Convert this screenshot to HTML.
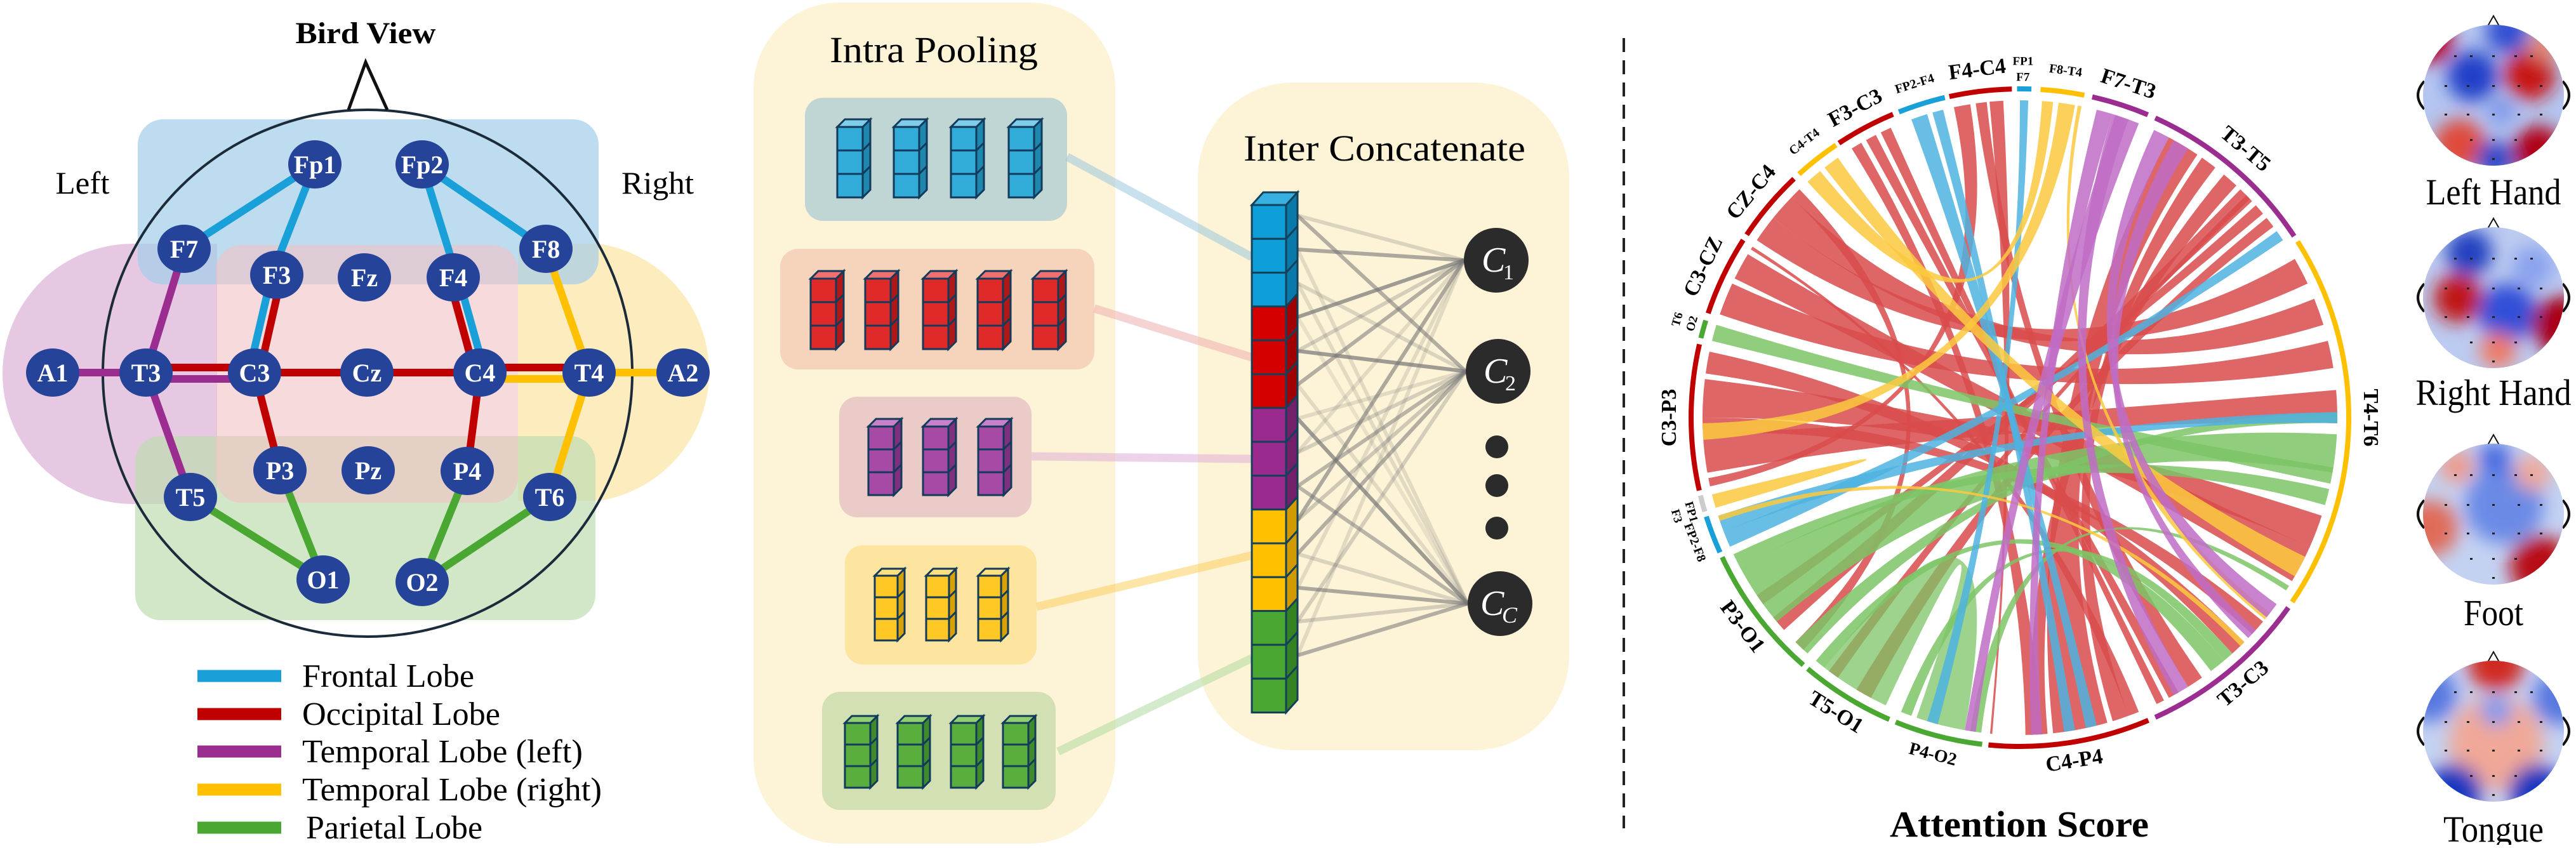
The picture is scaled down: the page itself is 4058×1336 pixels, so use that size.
<!DOCTYPE html>
<html><head><meta charset="utf-8"><style>
html,body{margin:0;padding:0;background:#fff;}
svg, svg text{font-family:"Liberation Serif","Times New Roman",serif;}
</style></head><body>
<svg id="s" width="4058" height="1331" viewBox="0 0 4058 1331" xmlns="http://www.w3.org/2000/svg" font-family="Liberation Serif, serif">
<rect width="4058" height="1331" fill="#fff"/>
<!-- PANEL 1 -->
<g>
<path d="M342,384 H209 A205,205 0 0 0 209,794 H342 Z" fill="#e6c8e3"/>
<path d="M816,384 H944 A205,205 0 0 1 944,789 H816 Z" fill="#fdecbe"/>
<rect x="217" y="188" width="726" height="260" rx="40" fill="#a3cde8" opacity="0.7"/>
<rect x="213" y="687" width="725" height="290" rx="40" fill="#bfdcb0" opacity="0.7"/>
<rect x="340" y="386" width="476" height="406" rx="40" fill="#f2c2c4" opacity="0.6"/>
<ellipse cx="579" cy="588" rx="417" ry="415" fill="none" stroke="#1c2b3a" stroke-width="4"/>
<path d="M549,173 L576,98 L610,173" fill="none" stroke="#111" stroke-width="5"/>
<text x="576" y="68" font-size="48" font-weight="bold" text-anchor="middle" textLength="221" lengthAdjust="spacingAndGlyphs">Bird View</text>
<text x="130" y="305" font-size="50" text-anchor="middle" textLength="85" lengthAdjust="spacingAndGlyphs">Left</text>
<text x="1036" y="305" font-size="50" text-anchor="middle" textLength="114" lengthAdjust="spacingAndGlyphs">Right</text>
<g stroke-width="12" stroke-linecap="round" fill="none">
<line x1="496" y1="259" x2="290" y2="392" stroke="#1aa0d8"/>
<line x1="496" y1="259" x2="428" y2="433" stroke="#1aa0d8"/>
<line x1="428" y1="433" x2="392" y2="587" stroke="#1aa0d8"/>
<line x1="444" y1="433" x2="409" y2="587" stroke="#c00000"/>
<line x1="665" y1="259" x2="860" y2="392" stroke="#1aa0d8"/>
<line x1="665" y1="259" x2="720" y2="437" stroke="#1aa0d8"/>
<line x1="722" y1="437" x2="764" y2="587" stroke="#1aa0d8"/>
<line x1="707" y1="437" x2="748" y2="587" stroke="#c00000"/>
<line x1="83" y1="587" x2="230" y2="587" stroke="#9b2d91"/>
<line x1="290" y1="392" x2="230" y2="587" stroke="#9b2d91"/>
<line x1="230" y1="587" x2="300" y2="783" stroke="#9b2d91"/>
<line x1="230" y1="579" x2="401" y2="579" stroke="#c00000"/>
<line x1="230" y1="597" x2="401" y2="597" stroke="#9b2d91"/>
<line x1="401" y1="587" x2="756" y2="587" stroke="#c00000"/>
<line x1="756" y1="579" x2="928" y2="579" stroke="#c00000"/>
<line x1="756" y1="597" x2="928" y2="597" stroke="#ffc000"/>
<line x1="860" y1="392" x2="928" y2="587" stroke="#ffc000"/>
<line x1="928" y1="587" x2="866" y2="783" stroke="#ffc000"/>
<line x1="928" y1="587" x2="1076" y2="587" stroke="#ffc000"/>
<line x1="401" y1="587" x2="441" y2="741" stroke="#c00000"/>
<line x1="756" y1="587" x2="736" y2="742" stroke="#c00000"/>
<line x1="300" y1="783" x2="509" y2="913" stroke="#4aa832"/>
<line x1="441" y1="741" x2="509" y2="913" stroke="#4aa832"/>
<line x1="736" y1="742" x2="665" y2="917" stroke="#4aa832"/>
<line x1="866" y1="783" x2="665" y2="917" stroke="#4aa832"/>
</g>
<g id="nodes" font-size="40" font-weight="bold" fill="#fff" text-anchor="middle"></g>
<g stroke-width="19">
<line x1="311" y1="1065" x2="443" y2="1065" stroke="#1aa0d8"/>
<line x1="311" y1="1125" x2="443" y2="1125" stroke="#c00000"/>
<line x1="311" y1="1184" x2="443" y2="1184" stroke="#9b2d91"/>
<line x1="311" y1="1244" x2="443" y2="1244" stroke="#ffc000"/>
<line x1="311" y1="1304" x2="443" y2="1304" stroke="#4aa832"/>
</g>
<g font-size="52" lengthAdjust="spacingAndGlyphs">
<text x="476" y="1082" textLength="271" lengthAdjust="spacingAndGlyphs">Frontal Lobe</text>
<text x="476" y="1142" textLength="312" lengthAdjust="spacingAndGlyphs">Occipital Lobe</text>
<text x="476" y="1201" textLength="442" lengthAdjust="spacingAndGlyphs">Temporal Lobe (left)</text>
<text x="476" y="1261" textLength="472" lengthAdjust="spacingAndGlyphs">Temporal Lobe (right)</text>
<text x="482" y="1321" textLength="278" lengthAdjust="spacingAndGlyphs">Parietal Lobe</text>
</g>
</g>
<!-- PANEL 2 -->
<rect x="1187" y="4" width="570" height="1325" rx="135" fill="#fdf3d6"/>
<text x="1471" y="98" font-size="58" text-anchor="middle" textLength="328" lengthAdjust="spacingAndGlyphs">Intra Pooling</text>
<rect x="1268" y="154" width="413" height="194" rx="28" fill="#bfd6d4"/>
<rect x="1229" y="392" width="495" height="190" rx="28" fill="#f6d4bb"/>
<rect x="1322" y="625" width="303" height="190" rx="28" fill="#ebcbc7"/>
<rect x="1331" y="859" width="302" height="188" rx="28" fill="#fde49f"/>
<rect x="1295" y="1090" width="368" height="186" rx="28" fill="#d3e0b3"/>
<rect x="1887" y="130" width="585" height="1052" rx="150" fill="#fdf3d6"/>
<text x="2181" y="253" font-size="58" text-anchor="middle" textLength="444" lengthAdjust="spacingAndGlyphs">Inter Concatenate</text>
<g stroke-width="13" opacity="0.55" stroke-linecap="butt">
<line x1="1681" y1="247" x2="1972" y2="405" stroke="#9cc9e0"/>
<line x1="1724" y1="486" x2="1972" y2="563" stroke="#f0b0b0"/>
<line x1="1625" y1="719" x2="1972" y2="723" stroke="#e0b0d8"/>
<line x1="1633" y1="956" x2="1972" y2="875" stroke="#fcd060"/>
<line x1="1667" y1="1184" x2="1972" y2="1037" stroke="#b0dca0"/>
</g>
<g id="cubes"></g>
<g id="glines"></g>
<g id="column"></g>
<g fill="#2b2b2b">
<circle cx="2357" cy="410" r="51"/><circle cx="2360" cy="585" r="51"/><circle cx="2363" cy="951" r="51"/>
<circle cx="2358" cy="704" r="18"/><circle cx="2358" cy="765" r="18"/><circle cx="2358" cy="832" r="18"/>
</g>
<g fill="#fff" font-style="italic">
<text x="2334" y="428" font-size="56">C</text><text x="2368" y="440" font-size="34" font-style="normal">1</text>
<text x="2337" y="603" font-size="56">C</text><text x="2371" y="615" font-size="34" font-style="normal">2</text>
<text x="2332" y="969" font-size="56">C</text><text x="2366" y="981" font-size="36">C</text>
</g>
<line x1="2558" y1="60" x2="2558" y2="1305" stroke="#222" stroke-width="4" stroke-dasharray="22 13"/>
<!-- PANEL 3 -->
<g id="chords"></g>
<g id="ring"></g>
<g id="rlabels" font-weight="bold" text-anchor="middle"></g>
<text x="3181" y="1318" font-size="58" font-weight="bold" text-anchor="middle" textLength="408" lengthAdjust="spacingAndGlyphs">Attention Score</text>
<defs>
<filter id="bl" x="-50%" y="-50%" width="200%" height="200%"><feGaussianBlur stdDeviation="14"/></filter>
</defs>
<g id="topo"></g>
<g font-size="58" text-anchor="middle">
<text x="3928" y="322" textLength="213" lengthAdjust="spacingAndGlyphs">Left Hand</text>
<text x="3928" y="638" textLength="245" lengthAdjust="spacingAndGlyphs">Right Hand</text>
<text x="3928" y="985" textLength="94" lengthAdjust="spacingAndGlyphs">Foot</text>
<text x="3928" y="1326" textLength="158" lengthAdjust="spacingAndGlyphs">Tongue</text>
</g>
</svg>
<script>
const NS="http://www.w3.org/2000/svg";
function el(t,a,p,txt){const e=document.createElementNS(NS,t);for(const k in a)e.setAttribute(k,a[k]);if(txt!==undefined)e.textContent=txt;p.appendChild(e);return e;}
const $=id=>document.getElementById(id);
const nodes=[["Fp1",496,259],["Fp2",665,259],["F7",290,392],["F8",860,392],["F3",436,433],["Fz",574,437],["F4",714,437],["A1",83,587],["T3",230,587],["C3",401,587],["Cz",578,587],["C4",756,587],["T4",928,587],["A2",1076,587],["P3",441,741],["Pz",580,741],["P4",736,742],["T5",300,783],["T6",866,783],["O1",509,913],["O2",665,917]];
nodes.forEach(n=>{el("ellipse",{cx:n[1],cy:n[2],rx:42,ry:38,fill:"#26439a"},$("nodes"));el("text",{x:n[1],y:n[2]+14},$("nodes"),n[0]);});
const cubeCol={b:["#32acd8","#7fcde8","#1f86ad"],r:["#e02a2a","#f07070","#b01818"],p:["#a64aa6","#c880c8","#7e2f7e"],y:["#ffc825","#ffe080","#d8a000"],g:["#5aae3e","#90d070","#3f8a2a"]};
function cube(x,y,c,w,h,d,p){const cc=cubeCol[c];
 for(let i=0;i<3;i++){const yy=y+i*h;
  el("rect",{x:x,y:yy,width:w,height:h,fill:cc[0],stroke:"#123a5a","stroke-width":3},p);
  el("path",{d:`M${x+w},${yy} l${d},${-d} v${h} l${-d},${d}z`,fill:cc[2],stroke:"#123a5a","stroke-width":3},p);}
 el("path",{d:`M${x},${y} l${d},${-d} h${w} l${-d},${d}z`,fill:cc[1],stroke:"#123a5a","stroke-width":3},p);}
const G=$("cubes");
[1319,1408,1498,1589].forEach(x=>cube(x,200,"b",40,37,12,G));
[1277,1363,1454,1540,1627].forEach(x=>cube(x,439,"r",40,37,12,G));
[1368,1454,1541].forEach(x=>cube(x,672,"p",40,36,12,G));
[1378,1459,1541].forEach(x=>cube(x,907,"y",36,34,11,G));
[1331,1414,1498,1580].forEach(x=>cube(x,1139,"g",40,34,11,G));
const colc=[["#0e9fd8","#0a78a8"],["#d40000","#a00000"],["#9b2a8f","#72206a"],["#ffc000","#d09a00"],["#4aa832","#358222"]];
const CG=$("column");const ch=53.3;
el("path",{d:"M1972,323 l18,-20 h54 l-18,20z",fill:"#35b0e0",stroke:"#14405a","stroke-width":3},CG);
for(let i=0;i<15;i++){const c=colc[Math.floor(i/3)];const y=323+i*ch;
 el("rect",{x:1972,y:y,width:54,height:ch,fill:c[0],stroke:"#14405a","stroke-width":3},CG);
 el("path",{d:`M2026,${y} l18,-20 v${ch} l-18,20z`,fill:c[1],stroke:"#14405a","stroke-width":3},CG);}
const tg=[[2306,410],[2309,585],[2312,951]];
const gl=[[0,0,.25],[0,1,.55],[1,0,.6],[1,2,.2],[2,1,.25],[2,2,.2],[3,0,.7],[3,2,.15],[4,1,.7],[4,0,.3],[5,0,.55],[5,2,.2],[6,2,.7],[6,1,.2],[7,1,.3],[7,0,.2],[8,1,.5],[8,2,.5],[9,0,.6],[9,1,.35],[10,1,.55],[10,2,.25],[11,2,.6],[11,0,.2],[12,2,.3],[12,1,.3],[13,2,.55],[13,0,.2]];
gl.forEach(g=>{const y=323+g[0]*ch+ch/2-10;el("line",{x1:2044,y1:y,x2:tg[g[1]][0],y2:tg[g[1]][1],stroke:"#777",opacity:g[2],"stroke-width":6},$("glines"));});
const CX=3182,CY=658,RR=518,R=500;
const pt=(a,r)=>{const t=a*Math.PI/180;return [(CX+r*Math.cos(t)).toFixed(1),(CY+r*Math.sin(t)).toFixed(1)];};
const segs=[[-90.5,-88,"#1aa0d8"],[-86.4,-78.7,"#ffc000"],[-77.3,-67.1,"#9b2d91"],[-65.7,-33.5,"#9b2d91"],[-32.4,34.1,"#ffc000"],[35.3,65.7,"#9b2d91"],[67,95.5,"#c00000"],[96.6,112.2,"#4aa832"],[113.4,130.2,"#4aa832"],[131.2,154.9,"#4aa832"],[155.8,162.5,"#1aa0d8"],[163.4,166.3,"#ccc"],[167.2,192.9,"#c00000"],[194,197.2,"#4aa832"],[198.5,212.7,"#c00000"],[213.8,226.6,"#c00000"],[227.8,236,"#ffc000"],[236.6,247.3,"#c00000"],[248.4,256.8,"#1aa0d8"],[257.6,268.6,"#c00000"]];
segs.forEach(s=>{const a=pt(s[0],RR),b=pt(s[1],RR);el("path",{d:`M${a} A${RR},${RR} 0 0 1 ${b}`,fill:"none",stroke:s[2],"stroke-width":8},$("ring"));});
const col={r:"#d94b4b",g:"#7cc466",b:"#4db3e0",y:"#fbc93e",p:"#c06cc6"};
function rib(a1,a2,b1,b2,c,op){const p1=pt(a1,R),p2=pt(a2,R),q1=pt(b1,R),q2=pt(b2,R);
 const m1=(a1+a2)/2,m2=(b1+b2)/2;let d=Math.abs(((m2-m1)%360+540)%360-180);const k=pt((m1+m2)/2,0).join(",");
 el("path",{d:`M${p1} A${R},${R} 0 0 1 ${p2} Q${k} ${q1} A${R},${R} 0 0 1 ${q2} Q${k} ${p1}Z`,fill:col[c],opacity:op||0.85},$("chords"));}
const R_=[
[214,219,-30,-25,"r"],[219,224,-22,-17,"r"],[199,205,-14,-9,"r"],[206,211,24,31,"r"],
[170,177,-5,1,"r"],[180,187,18,24,"r"],[177,180,40,43,"r"],[188,192,45,48,"r"],
[258,261,167.5,169,"r"],[262,264,55,58,"r"],[264.5,267,95,95.4,"r"],
[238,240,86,89,"r"],[241,243,60,62,"r"],[244,246,63,64.5,"r"],
[74,84,-62,-56,"r"],[70,73,-55,-52,"r"],[85,88,-50,-47,"r"],
[224,226,133,135,"r"],[212,212.6,68,70,"r"],
[-46,-43,138,141,"r"],[-42,-40,144,146,"r"],[-39,-37,118,121,"r"],[-44.5,-43.5,125,127,"r"],
[194,197,9,12,"g"],[140,152,3,10,"g"],[152,154.5,13,16,"g"],[132,135,-1,1,"g"],
[115,128,100,109,"g",.75],[128,130,50,53,"g"],[110,112,48,50,"g"],[97,99,32,33,"g"],
[156,159,-36,-34,"b"],[159,162,-1,1,"b"],[250,253,76,78,"b"],[254,256,80,82,"b"],[-90,-88.5,105,107,"b"],
[228,231,-86,-84,"y"],[232,235,26,30,"y"],[-83,-80,176,179,"y"],[-79.5,-78.8,38,39.5,"y"],[164,166,163.5,165.5,"y"],[161,162,45,46,"y"],
[-76,-73,86,88,"p"],[-72.5,-68,98,100,"p"],[-65,-62,36,39,"p"],[-61,-58,42,44,"p"],[58,61,-73,-70,"p"]
];
R_.forEach(r=>rib(r[0],r[1],r[2],r[3],r[4],r[5]));
const labs=[["F4-C4",263,34],["F3-C3",242,34],["FP2-F4",252.5,20],["C4-T4",232,20],["CZ-C4",220,34],["C3-CZ",205.5,34],["C3-P3",180,34],["FP2-F8",159,20],["P3-O1",143,34],["T5-O1",122,34],["P4-O2",104.5,28],["C4-P4",81,34],["T3-C3",50,34],["T4-T6",0,34],["T3-T5",-50,34],["F7-T3",-72,34],["F8-T4",-82.5,20]];
labs.forEach(l=>{const a=l[1];const p=pt(a,550);const rot=(a>0&&a<180)?a-90:a+90;
 el("text",{x:p[0],y:p[1],"font-size":l[2],"dominant-baseline":"middle",transform:`rotate(${rot} ${p[0]} ${p[1]})`},$("rlabels"),l[0]);});
[["FP1",-89.5,560],["F7",-89.5,535],["T6",196,560],["O2",196,536],["FP1",164,540],["F3",164,564]].forEach(l=>{const p=pt(l[1],l[2]);const a=l[1];const rot=(a>0&&a<180)?a-90:a+90;
 el("text",{x:p[0],y:p[1],"font-size":19,"dominant-baseline":"middle",transform:`rotate(${rot} ${p[0]} ${p[1]})`},$("rlabels"),l[0]);});
const T=$("topo");const hx=3928,hr=111;
const heads=[[150,"#b4c6f0",[[3895,120,40,"#2440c8"],[3950,50,34,"#3050d0"],[3985,118,40,"#c81818"],[3830,65,34,"#b80018"],[3875,228,40,"#e04838"],[3998,238,40,"#b00018"],[3930,252,30,"#2a48c8"],[4010,70,26,"#e08878"],[3940,175,22,"#7d98ea"]]],
[469,"#bccbf0",[[3890,398,36,"#2040c0"],[3872,470,38,"#c01818"],[3950,492,46,"#3050d8"],[4035,512,46,"#a80018"],[3935,552,28,"#f07860"],[3990,420,32,"#88a2ee"]]],
[810,"#c4d2f2",[[3828,832,44,"#e06a58"],[3945,795,62,"#6a8ae6"],[4002,892,48,"#b80818"],[3870,735,26,"#f09888"],[3990,745,28,"#f0a898"],[3930,722,26,"#4a6ae0"]]],
[1152,"#c4d2f2",[[3932,1045,44,"#d02a20"],[3932,1170,74,"#f0a898"],[3866,1248,44,"#1838c0"],[3996,1248,44,"#1838c0"],[3828,1095,42,"#5878e0"],[4032,1100,42,"#5878e0"],[3932,1120,24,"#7d98ee"]]]];
heads.forEach((h,i)=>{const cy=h[0];
 el("path",{d:`M${hx-hr+2},${cy-22} q-20,22 0,44`,fill:"none",stroke:"#111","stroke-width":4},T);
 el("path",{d:`M${hx+hr-2},${cy-22} q20,22 0,44`,fill:"none",stroke:"#111","stroke-width":4},T);
 el("path",{d:`M${hx-9},${cy-hr+2} L${hx},${cy-hr-14} L${hx+9},${cy-hr+2}`,fill:"none",stroke:"#111","stroke-width":2},T);
 const cp=el("clipPath",{id:"c"+i},T);el("circle",{cx:hx,cy:cy,r:hr},cp);
 const g=el("g",{"clip-path":`url(#c${i})`},T);
 el("rect",{x:hx-hr,y:cy-hr,width:2*hr,height:2*hr,fill:h[1]},g);
 const gb=el("g",{filter:"url(#bl)"},g);
 h[2].forEach(b=>el("circle",{cx:b[0],cy:b[1],r:b[2],fill:b[3]},gb));
 [[-60,-62],[-35,-62],[0,-62],[35,-62],[60,-62],[-75,-15],[-40,-15],[0,-15],[40,-15],[75,-15],[-75,30],[-40,30],[0,30],[40,30],[75,30],[-35,70],[0,70],[35,70],[0,100]].forEach(d=>el("rect",{x:hx+d[0]-2,y:cy+d[1]-1,width:4,height:3,fill:"#222"},g));
});
</script>
</body></html>
